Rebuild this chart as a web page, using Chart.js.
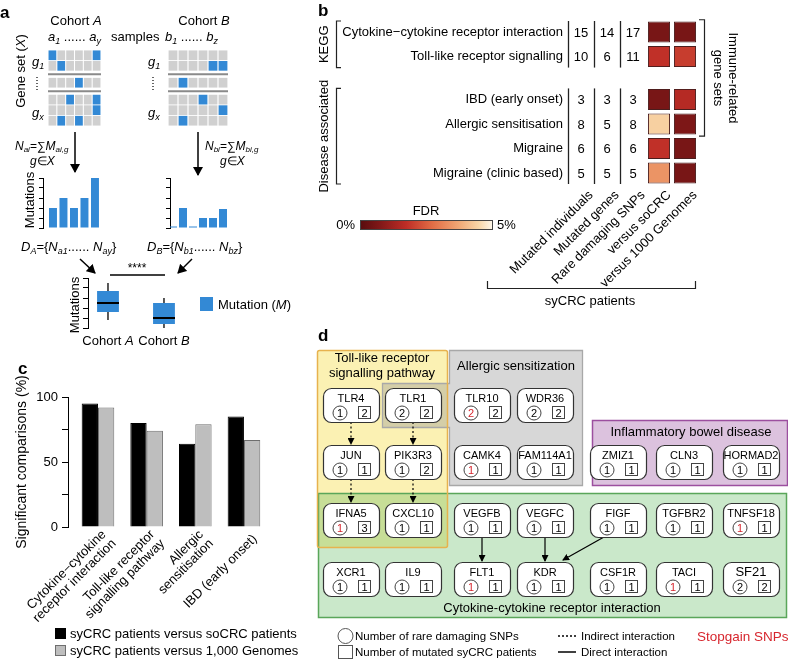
<!DOCTYPE html>
<html>
<head>
<meta charset="utf-8">
<script src="https://cdn.jsdelivr.net/npm/chart.js@4.4.1/dist/chart.umd.min.js"></script>
<style>
body{margin:0;background:#fff;}
#page{position:relative;width:788px;height:661px;overflow:hidden;}
canvas{position:absolute;}
svg{position:absolute;left:0;top:0;pointer-events:none;}
svg text{font-family:"Liberation Sans",Arial,sans-serif;font-size:13px;fill:#000;}
</style>
</head>
<body>
<div id="page">
<canvas id="gridA"></canvas>
<canvas id="gridB"></canvas>
<canvas id="barsA"></canvas>
<canvas id="barsB"></canvas>
<canvas id="boxAB"></canvas>
<canvas id="heat"></canvas>
<canvas id="sigChart"></canvas>
<svg id="art" width="788" height="661"></svg>
</div>
<script>
// ---- panel a: schematic cohorts ----
const cohortAGrid = [
  [1,0,0,0,0,1],
  [0,1,0,0,0,0],
  [0,0,0,1,0,0],
  [0,0,1,0,0,1],
  [0,0,0,0,0,1],
  [0,1,0,1,0,0]
];
const cohortBGrid = [
  [0,0,0,0,0,0],
  [0,0,0,0,1,1],
  [0,1,0,0,0,0],
  [0,0,0,1,0,0],
  [0,0,0,0,0,1],
  [0,1,0,0,0,0]
];
const geneBlocks = [2, 1, 3];
const cohortAMutations = [2, 3, 2, 3, 5];
const cohortBMutations = [0.15, 2, 0.15, 1, 1, 1.9];
const boxCohorts = ['Cohort A', 'Cohort B'];
const boxLow = [0.8, 0];
const boxQ1 = [1.6, 0.4];
const boxMedian = [2.5, 1.0];
const boxQ3 = [3.7, 2.5];
const boxHigh = [4.5, 3.0];

// ---- panel b: heatmap ----
const geneSets = ['Cytokine\u2212cytokine receptor interaction', 'Toll-like receptor signalling',
  'IBD (early onset)', 'Allergic sensitisation', 'Migraine', 'Migraine (clinic based)'];
const geneSetGroup = ['KEGG', 'KEGG', 'Disease associated', 'Disease associated', 'Disease associated', 'Disease associated'];
const immuneRelated = [true, true, true, true, false, false];
const heatColumns = ['Mutated individuals', 'Mutated genes', 'Rare damaging SNPs', 'versus soCRC', 'versus 1000 Genomes'];
const mutatedIndividuals = [15, 10, 3, 8, 6, 5];
const mutatedGenes = [14, 6, 3, 5, 6, 5];
const rareDamagingSnps = [17, 11, 3, 8, 6, 5];
const fdrVsSoCRC = [0.6, 1.8, 0.6, 4.4, 1.8, 3.4];
const fdrVs1000G = [0.6, 2.0, 1.6, 0.7, 0.6, 0.6];
const fdrMax = 5;

// ---- panel c ----
const comparisonSets = [['Cytokine\u2212cytokine', 'receptor interaction'], ['Toll-like receptor', 'signalling pathway'],
  ['Allergic', 'sensitisation'], ['IBD (early onset)']];
const vsSoCRC = [95, 80, 64, 85];
const vs1000G = [92, 74, 79, 67];
const legendC = ['syCRC patients versus soCRC patients', 'syCRC patients versus 1,000 Genomes'];

// ---- panel d ----
const dGenes = ['TLR4','TLR1','TLR10','WDR36','JUN','PIK3R3','CAMK4','FAM114A1','ZMIZ1','CLN3','HORMAD2',
  'IFNA5','CXCL10','VEGFB','VEGFC','FIGF','TGFBR2','TNFSF18','XCR1','IL9','FLT1','KDR','CSF1R','TACI','SF21'];
const dRareSnps =  [1,2,2,2,1,1,1,1,1,1,1,1,1,1,1,1,1,1,1,1,1,1,1,1,2];
const dPatients =  [2,2,2,2,1,2,1,1,1,1,1,3,1,1,1,1,1,1,1,1,1,1,1,1,2];
const dStopgain =  [0,0,1,0,0,0,1,0,0,0,0,1,0,0,0,0,0,1,0,0,1,0,0,1,0];
const dIndirect = [['TLR4','JUN'], ['TLR1','PIK3R3'], ['JUN','IFNA5'], ['PIK3R3','CXCL10']];
const dDirect = [['VEGFB','FLT1'], ['VEGFC','KDR'], ['FIGF','KDR']];

const blue = '#3389d5';
const FONT = '"Liberation Sans", Arial, sans-serif';

Chart.defaults.font.family = FONT;
Chart.defaults.font.size = 13;
Chart.defaults.color = '#000';
Chart.defaults.animation = false;
Chart.defaults.responsive = false;
Chart.defaults.plugins.legend.display = false;
Chart.defaults.plugins.tooltip.enabled = false;

function place(id, left, top, w, h) {
  const c = document.getElementById(id);
  c.width = w; c.height = h;
  c.style.left = left + 'px'; c.style.top = top + 'px';
  c.style.width = w + 'px'; c.style.height = h + 'px';
  return c;
}
// one tick per bar, so the bar width comes from the bar spacing
const tickEach = n => s => { s.ticks = Array.from({length: n}, (_, i) => ({value: i + 1})); };

// row positions for the sample grids, with a gap between gene blocks
function blockRows(blocks, gap) {
  const pos = []; let p = 0;
  blocks.forEach(n => { for (let i = 0; i < n; i++) { pos.push(p); p++; } p += gap; });
  return pos;
}
const gridRows = blockRows(geneBlocks, 0.6);

function sampleGrid(id, left, w, rows) {
  const seps = [];
  let k = 0;
  geneBlocks.slice(0, -1).forEach(n => { k += n; seps.push((gridRows[k - 1] + gridRows[k]) / 2); });
  new Chart(place(id, left, 50, w, 76), {
    type: 'bar',
    data: {
      datasets: rows.map((r, ri) => ({
        data: r.map((v, c) => ({x: c + 1, y: [gridRows[ri] - 0.46, gridRows[ri] + 0.46]})),
        backgroundColor: r.map(v => v ? blue : '#d0d0d0'),
        grouped: false, barPercentage: 1, categoryPercentage: 0.88
      }))
    },
    options: {
      scales: {
        x: {type: 'linear', display: false, offset: false, min: 0.5, max: rows[0].length + 0.5,
          afterBuildTicks: tickEach(rows[0].length)},
        y: {type: 'linear', display: false, reverse: true, min: -0.5, max: gridRows[gridRows.length - 1] + 0.5}
      }
    },
    plugins: [{
      id: 'separators',
      afterDatasetsDraw(ch) {
        const {ctx, chartArea, scales: {y}} = ch;
        ctx.save();
        ctx.strokeStyle = '#8a8a8a'; ctx.lineWidth = 2;
        seps.forEach(s => {
          const py = y.getPixelForValue(s);
          ctx.beginPath(); ctx.moveTo(chartArea.left, py); ctx.lineTo(chartArea.right, py); ctx.stroke();
        });
        ctx.restore();
      }
    }]
  });
}
sampleGrid('gridA', 48, 53, cohortAGrid);
sampleGrid('gridB', 168, 60, cohortBGrid);

function mutationBars(id, left, values, xMin, xMax, pct) {
  new Chart(place(id, left, 172, 66, 57), {
    type: 'bar',
    data: {datasets: [{data: values.map((v, i) => ({x: i + 1, y: v})), backgroundColor: blue,
      barPercentage: 1, categoryPercentage: pct}]},
    options: {
      layout: {padding: {top: 6, bottom: 1}},
      scales: {
        x: {type: 'linear', display: false, offset: false, min: xMin, max: xMax, afterBuildTicks: tickEach(values.length)},
        y: {min: 0, max: 5, ticks: {display: false, stepSize: 1},
          grid: {drawOnChartArea: false, tickLength: 4, color: '#000'},
          border: {color: '#000'}, afterFit: s => { s.width = 7; }}
      }
    }
  });
}
mutationBars('barsA', 36, cohortAMutations, 0.05, 5.67, 0.76);
mutationBars('barsB', 163, cohortBMutations, 0.7, 6.6, 0.8);

new Chart(place('boxAB', 80, 272, 110, 57), {
  type: 'bar',
  data: {datasets: [{data: boxCohorts.map((c, i) => ({x: i + 1, y: [boxQ1[i], boxQ3[i]]})),
    backgroundColor: blue, barPercentage: 1, categoryPercentage: 0.39}]},
  options: {
    layout: {padding: {top: 6, bottom: 1, right: 10}},
    scales: {
      x: {type: 'linear', display: false, offset: false, min: 0.643, max: 2.286, afterBuildTicks: tickEach(boxCohorts.length)},
      y: {min: 0, max: 5, ticks: {display: false, stepSize: 1},
        grid: {drawOnChartArea: false, tickLength: 5, color: '#000'},
        border: {color: '#000'}, afterFit: s => { s.width = 8; }}
    }
  },
  plugins: [{
    id: 'whiskers',
    afterDatasetsDraw(ch) {
      const {ctx, scales: {x, y}} = ch;
      ctx.save();
      ctx.strokeStyle = '#000';
      boxCohorts.forEach((c, i) => {
        const px = x.getPixelForValue(i + 1);
        ctx.lineWidth = 1.3;
        ctx.beginPath();
        ctx.moveTo(px, y.getPixelForValue(boxLow[i])); ctx.lineTo(px, y.getPixelForValue(boxQ1[i]));
        ctx.moveTo(px, y.getPixelForValue(boxQ3[i])); ctx.lineTo(px, y.getPixelForValue(boxHigh[i]));
        ctx.stroke();
        ctx.lineWidth = 2;
        ctx.beginPath();
        ctx.moveTo(px - 11, y.getPixelForValue(boxMedian[i])); ctx.lineTo(px + 11, y.getPixelForValue(boxMedian[i]));
        ctx.stroke();
      });
      ctx.restore();
    }
  }]
});

// ---- panel b ----
const fdrStops = [[0, [88, 12, 14]], [0.15, [128, 24, 24]], [0.35, [190, 45, 38]], [0.55, [226, 110, 70]],
  [0.75, [240, 168, 118]], [0.9, [248, 214, 168]], [1, [253, 246, 232]]];
function fdrColor(v) {
  const t = Math.min(1, Math.max(0, v / fdrMax));
  for (let i = 1; i < fdrStops.length; i++) {
    if (t <= fdrStops[i][0]) {
      const [t0, c0] = fdrStops[i - 1], [t1, c1] = fdrStops[i];
      const f = (t - t0) / (t1 - t0);
      return 'rgb(' + c0.map((c, k) => Math.round(c + (c1[k] - c) * f)).join(',') + ')';
    }
  }
  return 'rgb(253,246,232)';
}
const groupNames = [...new Set(geneSetGroup)];
const rowPos = geneSets.map((_, i) => i + 0.75 * groupNames.indexOf(geneSetGroup[i]));
const countCols = [mutatedIndividuals, mutatedGenes, rareDamagingSnps];

const heatDecor = {
  id: 'heatDecor',
  afterDraw(ch) {
    const {ctx, chartArea, scales: {x, y}} = ch;
    const colW = x.getPixelForValue(1) - x.getPixelForValue(0);
    ctx.save();
    ctx.fillStyle = '#000'; ctx.strokeStyle = '#222';
    ctx.font = '13px ' + FONT;
    ctx.textAlign = 'center'; ctx.textBaseline = 'middle';
    countCols.forEach((col, c) => col.forEach((v, r) =>
      ctx.fillText(v, x.getPixelForValue(c), y.getPixelForValue(rowPos[r]) + 1)));
    groupNames.forEach(g => {
      const idx = geneSetGroup.map((s, i) => s === g ? i : -1).filter(i => i >= 0);
      const top = y.getPixelForValue(rowPos[idx[0]] - 0.45);
      const bot = y.getPixelForValue(rowPos[idx[idx.length - 1]] + 0.45);
      ctx.lineWidth = 1.3;
      countCols.forEach((col, c) => {
        const lx = Math.round(x.getPixelForValue(c) - colW / 2) + 0.5;
        ctx.beginPath(); ctx.moveTo(lx, top); ctx.lineTo(lx, bot); ctx.stroke();
      });
      ctx.lineWidth = 1.2;
      ctx.beginPath(); ctx.moveTo(29, top); ctx.lineTo(24.5, top); ctx.lineTo(24.5, bot); ctx.lineTo(29, bot); ctx.stroke();
      ctx.save();
      ctx.translate(12, (top + bot) / 2); ctx.rotate(-Math.PI / 2);
      ctx.fillText(g, 0, 0);
      ctx.restore();
    });
    // column labels, slanted
    ctx.textAlign = 'right';
    heatColumns.forEach((name, c) => {
      ctx.save();
      ctx.translate(x.getPixelForValue(c) + 10, chartArea.bottom + 9);
      ctx.rotate(-Math.PI / 4);
      ctx.fillText(name, 0, 0);
      ctx.restore();
    });
    ctx.textAlign = 'center';
    // immune-related bracket
    const imm = immuneRelated.map((v, i) => v ? i : -1).filter(i => i >= 0);
    const iTop = y.getPixelForValue(rowPos[imm[0]] - 0.5);
    const iBot = y.getPixelForValue(rowPos[imm[imm.length - 1]] + 0.5);
    ctx.beginPath(); ctx.moveTo(387, iTop); ctx.lineTo(392.5, iTop); ctx.lineTo(392.5, iBot); ctx.lineTo(387, iBot); ctx.stroke();
    ctx.save();
    ctx.translate(421, (iTop + iBot) / 2); ctx.rotate(Math.PI / 2);
    ctx.fillText('Immune-related', 0, 0);
    ctx.restore();
    ctx.save();
    ctx.translate(406, (iTop + iBot) / 2); ctx.rotate(Math.PI / 2);
    ctx.fillText('gene sets', 0, 0);
    ctx.restore();
    // colour bar
    const gx0 = 48, gx1 = 180;
    const grad = ctx.createLinearGradient(gx0, 0, gx1, 0);
    fdrStops.forEach(([t, c]) => grad.addColorStop(t, 'rgb(' + c.join(',') + ')'));
    ctx.fillStyle = grad;
    ctx.fillRect(gx0, 220, gx1 - gx0, 9);
    ctx.lineWidth = 1; ctx.strokeStyle = '#444';
    ctx.strokeRect(gx0 + 0.5, 220.5, gx1 - gx0, 9);
    ctx.fillStyle = '#000';
    ctx.textAlign = 'right'; ctx.fillText('0%', 43, 225);
    ctx.textAlign = 'left'; ctx.fillText('5%', 185, 225);
    ctx.textAlign = 'center'; ctx.textBaseline = 'alphabetic';
    ctx.fillText('FDR', 114, 215);
    // patient bracket
    ctx.strokeStyle = '#222'; ctx.lineWidth = 1.2;
    ctx.beginPath(); ctx.moveTo(175.5, 281); ctx.lineTo(175.5, 288.5); ctx.lineTo(383.5, 288.5); ctx.lineTo(383.5, 281); ctx.stroke();
    ctx.fillText('syCRC patients', 278, 305);
    ctx.restore();
  }
};

new Chart(place('heat', 312, 0, 476, 310), {
  type: 'bar',
  data: {
    labels: heatColumns,
    datasets: geneSets.map((name, r) => ({
      label: name,
      data: heatColumns.map((c, ci) => ci < 3 ? null : [rowPos[r] - 0.43, rowPos[r] + 0.43]),
      backgroundColor: heatColumns.map((c, ci) => ci === 3 ? fdrColor(fdrVsSoCRC[r]) : ci === 4 ? fdrColor(fdrVs1000G[r]) : 'transparent'),
      borderColor: '#4a1e1e', borderWidth: 1, borderSkipped: false,
      grouped: false, barPercentage: 1, categoryPercentage: 0.85
    }))
  },
  options: {
    layout: {padding: {top: 21, right: 90}},
    scales: {
      x: {grid: {display: false, drawTicks: false}, border: {display: false},
        ticks: {display: false},
        afterFit: s => { s.height = 126; }},
      y: {type: 'linear', reverse: true, min: -0.45, max: rowPos[rowPos.length - 1] + 0.45,
        grid: {display: false, drawTicks: false}, border: {display: false},
        afterBuildTicks: s => { s.ticks = rowPos.map(v => ({value: v})); },
        ticks: {autoSkip: false, padding: 5, callback: (v, i) => geneSets[i]},
        afterFit: s => { s.width = 256; }}
    }
  },
  plugins: [heatDecor]
});

// ---- panel c ----
const slantLabels = {
  id: 'slantLabels',
  afterDraw(ch) {
    const {ctx, chartArea, scales: {x}} = ch;
    ctx.save();
    ctx.font = '13px ' + FONT; ctx.fillStyle = '#000';
    ctx.textAlign = 'right'; ctx.textBaseline = 'middle';
    comparisonSets.forEach((lines, i) => {
      const px = x.getPixelForValue(i + 1);
      lines.forEach((t, j) => {
        const k = j - (lines.length - 1) / 2;
        ctx.save();
        ctx.translate(px + 11 + k * 10, chartArea.bottom + 10 + k * 9);
        ctx.rotate(-Math.PI / 4);
        ctx.fillText(t, 0, 0);
        ctx.restore();
      });
    });
    ctx.restore();
  }
};

new Chart(place('sigChart', 0, 360, 300, 265), {
  type: 'bar',
  data: {
    datasets: [
      {label: legendC[0], data: vsSoCRC.map((v, i) => ({x: i + 1, y: v})),
        backgroundColor: '#000', borderColor: '#000', borderWidth: 1},
      {label: legendC[1], data: vs1000G.map((v, i) => ({x: i + 1, y: v})),
        backgroundColor: '#bebebe', borderColor: '#6e6e6e', borderWidth: 1}
    ]
  },
  options: {
    datasets: {bar: {barPercentage: 1, categoryPercentage: 0.67}},
    layout: {padding: {left: 14, top: 37, right: 32, bottom: 0}},
    scales: {
      x: {type: 'linear', offset: false, min: 0.384, max: 4.494, grid: {display: false, drawTicks: false}, border: {display: false},
        afterBuildTicks: tickEach(comparisonSets.length),
        ticks: {display: false},
        afterFit: s => { s.height = 98; }},
      y: {min: 0, max: 100, ticks: {stepSize: 25, padding: 4, callback: v => v % 50 === 0 ? v : ''},
        grid: {drawOnChartArea: false, tickLength: 6, color: '#000'}, border: {display: true, color: '#000', width: 1},
        title: {display: true, text: 'Significant comparisons (%)', font: {size: 14}, padding: 0},
        afterFit: s => { s.width = 54; }}
    }
  },
  plugins: [slantLabels]
});

// ---- svg overlay: schematic text, panel d network ----
const nodeCols = [323, 385, 454, 517, 590, 656, 723];
const nodeRows = [388, 445, 503, 562];
const dNodeAt = [[0,0],[1,0],[2,0],[3,0],[0,1],[1,1],[2,1],[3,1],[4,1],[5,1],[6,1],
  [0,2],[1,2],[2,2],[3,2],[4,2],[5,2],[6,2],[0,3],[1,3],[2,3],[3,3],[4,3],[5,3],[6,3]];
const NW = 56, NH = 34;
function nodeBox(name) {
  const i = dGenes.indexOf(name);
  return {x: nodeCols[dNodeAt[i][0]], y: nodeRows[dNodeAt[i][1]]};
}

let s = `
<defs>
<marker id="ahBig" markerWidth="9" markerHeight="10" refX="8" refY="5" orient="auto" markerUnits="userSpaceOnUse"><path d="M0,0 L9,5 L0,10 z" fill="#000"/></marker>
<marker id="ahSmall" markerWidth="7" markerHeight="7" refX="6" refY="3.5" orient="auto" markerUnits="userSpaceOnUse"><path d="M0,0 L7,3.5 L0,7 z" fill="#000"/></marker>
</defs>
<text x="0" y="18" style="font-size:17px;font-weight:bold">a</text>
<text x="318" y="16" style="font-size:17px;font-weight:bold">b</text>
<text x="18" y="374" style="font-size:17px;font-weight:bold">c</text>
<text x="318" y="341" style="font-size:17px;font-weight:bold">d</text>
<text x="76" y="25" text-anchor="middle">Cohort <tspan font-style="italic">A</tspan></text>
<text x="204" y="25" text-anchor="middle">Cohort <tspan font-style="italic">B</tspan></text>
<text x="48" y="41" font-style="italic">a<tspan dy="3" style="font-size:9px">1</tspan><tspan dy="-3" font-style="normal"> ...... </tspan>a<tspan dy="3" style="font-size:9px">y</tspan></text>
<text x="111" y="41">samples</text>
<text x="165" y="41" font-style="italic">b<tspan dy="3" style="font-size:9px">1</tspan><tspan dy="-3" font-style="normal"> ...... </tspan>b<tspan dy="3" style="font-size:9px">z</tspan></text>
<text transform="translate(25,71) rotate(-90)" text-anchor="middle">Gene set (<tspan font-style="italic">X</tspan>)</text>
`;
[[32, 37], [148, 153]].forEach(([gx, dx]) => {
  s += `<text x="${gx}" y="66" font-style="italic">g<tspan dy="3" style="font-size:9px">1</tspan></text>
<text x="${gx}" y="117" font-style="italic">g<tspan dy="3" style="font-size:9px">x</tspan></text>
<line x1="${dx}" y1="77" x2="${dx}" y2="91" stroke="#000" stroke-width="1.2" stroke-dasharray="1,2"/>`;
});
[['a', 15, 75, 132, 172], ['b', 205, 198, 132, 175]].forEach(([k, fx, ax, y1, y2]) => {
  s += `<line x1="${ax}" y1="${y1}" x2="${ax}" y2="${y2}" stroke="#000" stroke-width="1.5" marker-end="url(#ahBig)"/>
<text x="${fx}" y="150" font-style="italic" style="font-size:12px">N<tspan dy="2" style="font-size:8px">${k}i</tspan><tspan dy="-2" font-style="normal">=∑</tspan>M<tspan dy="2" style="font-size:8px">${k}i,g</tspan></text>
<text x="${fx + 15}" y="165" style="font-size:12px"><tspan font-style="italic">g</tspan>∈<tspan font-style="italic">X</tspan></text>`;
});
s += `
<text transform="translate(34,200) rotate(-90)" text-anchor="middle">Mutations</text>
<text x="21" y="251" font-style="italic">D<tspan dy="3" style="font-size:9px">A</tspan><tspan dy="-3" font-style="normal">={</tspan>N<tspan dy="3" style="font-size:9px">a1</tspan><tspan dy="-3" font-style="normal">...... </tspan>N<tspan dy="3" style="font-size:9px">ay</tspan><tspan dy="-3" font-style="normal">}</tspan></text>
<text x="147" y="251" font-style="italic">D<tspan dy="3" style="font-size:9px">B</tspan><tspan dy="-3" font-style="normal">={</tspan>N<tspan dy="3" style="font-size:9px">b1</tspan><tspan dy="-3" font-style="normal">...... </tspan>N<tspan dy="3" style="font-size:9px">bz</tspan><tspan dy="-3" font-style="normal">}</tspan></text>
<line x1="80" y1="259" x2="95" y2="273" stroke="#000" stroke-width="1.5" marker-end="url(#ahBig)"/>
<line x1="192" y1="259" x2="178" y2="273" stroke="#000" stroke-width="1.5" marker-end="url(#ahBig)"/>
<line x1="110" y1="275" x2="165" y2="275" stroke="#000" stroke-width="1.3"/>
<text x="137" y="272" text-anchor="middle" style="font-size:12px">****</text>
<text transform="translate(79,305) rotate(-90)" text-anchor="middle">Mutations</text>
<text x="108" y="345" text-anchor="middle">Cohort <tspan font-style="italic">A</tspan></text>
<text x="164" y="345" text-anchor="middle">Cohort <tspan font-style="italic">B</tspan></text>
<rect x="200" y="297" width="13" height="14" fill="${blue}"/>
<text x="218" y="309">Mutation (<tspan font-style="italic">M</tspan>)</text>
<rect x="55.5" y="628.5" width="10" height="10" fill="#000" stroke="#000"/>
<text x="70" y="638">${legendC[0]}</text>
<rect x="55.5" y="645.5" width="10" height="10" fill="#bebebe" stroke="#6e6e6e"/>
<text x="70" y="655">${legendC[1]}</text>
`;

// panel d group boxes
s += `
<rect x="317.5" y="350.5" width="130" height="197" rx="2" fill="#fbf1b3"/>
<path d="M449.5,350.5 H582.5 V485.5 H449.5 V427.5 H382.5 V383.5 H449.5 Z" fill="rgba(150,150,150,0.38)" stroke="#a8a8a8" stroke-width="1.3"/>
<rect x="592.5" y="420.5" width="195" height="65" fill="#dcc2de" stroke="#9c4f9f" stroke-width="1.5"/>
<rect x="318.5" y="493.5" width="468" height="124" fill="rgba(95,185,95,0.33)" stroke="#5aa65a" stroke-width="1.5"/>
<rect x="317.5" y="350.5" width="130" height="197" rx="2" fill="none" stroke="#e7b24e" stroke-width="1.5"/>
<text x="382" y="362" text-anchor="middle">Toll-like receptor</text>
<text x="382" y="377" text-anchor="middle">signalling pathway</text>
<text x="516" y="370" text-anchor="middle">Allergic sensitization</text>
<text x="691" y="436" text-anchor="middle">Inflammatory bowel disease</text>
<text x="552" y="612" text-anchor="middle">Cytokine-cytokine receptor interaction</text>
`;
function edge(a, b, dashed) {
  const p = nodeBox(a), q = nodeBox(b);
  let x1, y1, x2, y2;
  if (p.x === q.x) { x1 = x2 = p.x + NW / 2; y1 = p.y + NH; y2 = q.y - 1; }
  else { x1 = p.x + 14; y1 = p.y + NH; x2 = q.x + 46; y2 = q.y - 2; }
  return `<line x1="${x1}" y1="${y1}" x2="${x2}" y2="${y2}" stroke="#000" stroke-width="1.2" ${dashed ? 'stroke-dasharray="2,2.5"' : ''} marker-end="url(#ahSmall)"/>`;
}
dIndirect.forEach(([a, b]) => { s += edge(a, b, true); });
dDirect.forEach(([a, b]) => { s += edge(a, b, false); });
dGenes.forEach((g, i) => {
  const {x, y} = nodeBox(g);
  const red = dStopgain[i] ? '#d7262e' : '#000';
  const nameSize = g === 'SF21' ? 13 : 11;
  s += `<rect x="${x + 0.5}" y="${y + 0.5}" width="${NW}" height="${NH}" rx="8" fill="#fff" stroke="#333" stroke-width="1.2"/>
<text x="${x + NW / 2}" y="${y + 14}" text-anchor="middle" style="font-size:${nameSize}px">${g}</text>
<circle cx="${x + 17}" cy="${y + 25}" r="7" fill="#fff" stroke="#444" stroke-width="1"/>
<text x="${x + 17}" y="${y + 29}" text-anchor="middle" style="font-size:11px;fill:${red}">${dRareSnps[i]}</text>
<rect x="${x + 35.5}" y="${y + 18.5}" width="12" height="12" fill="#fff" stroke="#444" stroke-width="1"/>
<text x="${x + 41.5}" y="${y + 29}" text-anchor="middle" style="font-size:11px">${dPatients[i]}</text>`;
});
s += `
<circle cx="345.5" cy="636" r="7.5" fill="none" stroke="#555"/>
<text x="355" y="640" style="font-size:11.5px">Number of rare damaging SNPs</text>
<rect x="338.5" y="645.5" width="14" height="13" fill="none" stroke="#555"/>
<text x="355" y="656" style="font-size:11.5px">Number of mutated syCRC patients</text>
<line x1="558" y1="636" x2="576" y2="636" stroke="#000" stroke-width="1.3" stroke-dasharray="2,2"/>
<text x="581" y="640" style="font-size:11.5px">Indirect interaction</text>
<line x1="558" y1="652" x2="576" y2="652" stroke="#000" stroke-width="1.5"/>
<text x="581" y="656" style="font-size:11.5px">Direct interaction</text>
<text x="697" y="641" style="font-size:13.5px;fill:#d7262e">Stopgain SNPs</text>
`;
document.getElementById('art').innerHTML = s;
</script>
</body>
</html>
